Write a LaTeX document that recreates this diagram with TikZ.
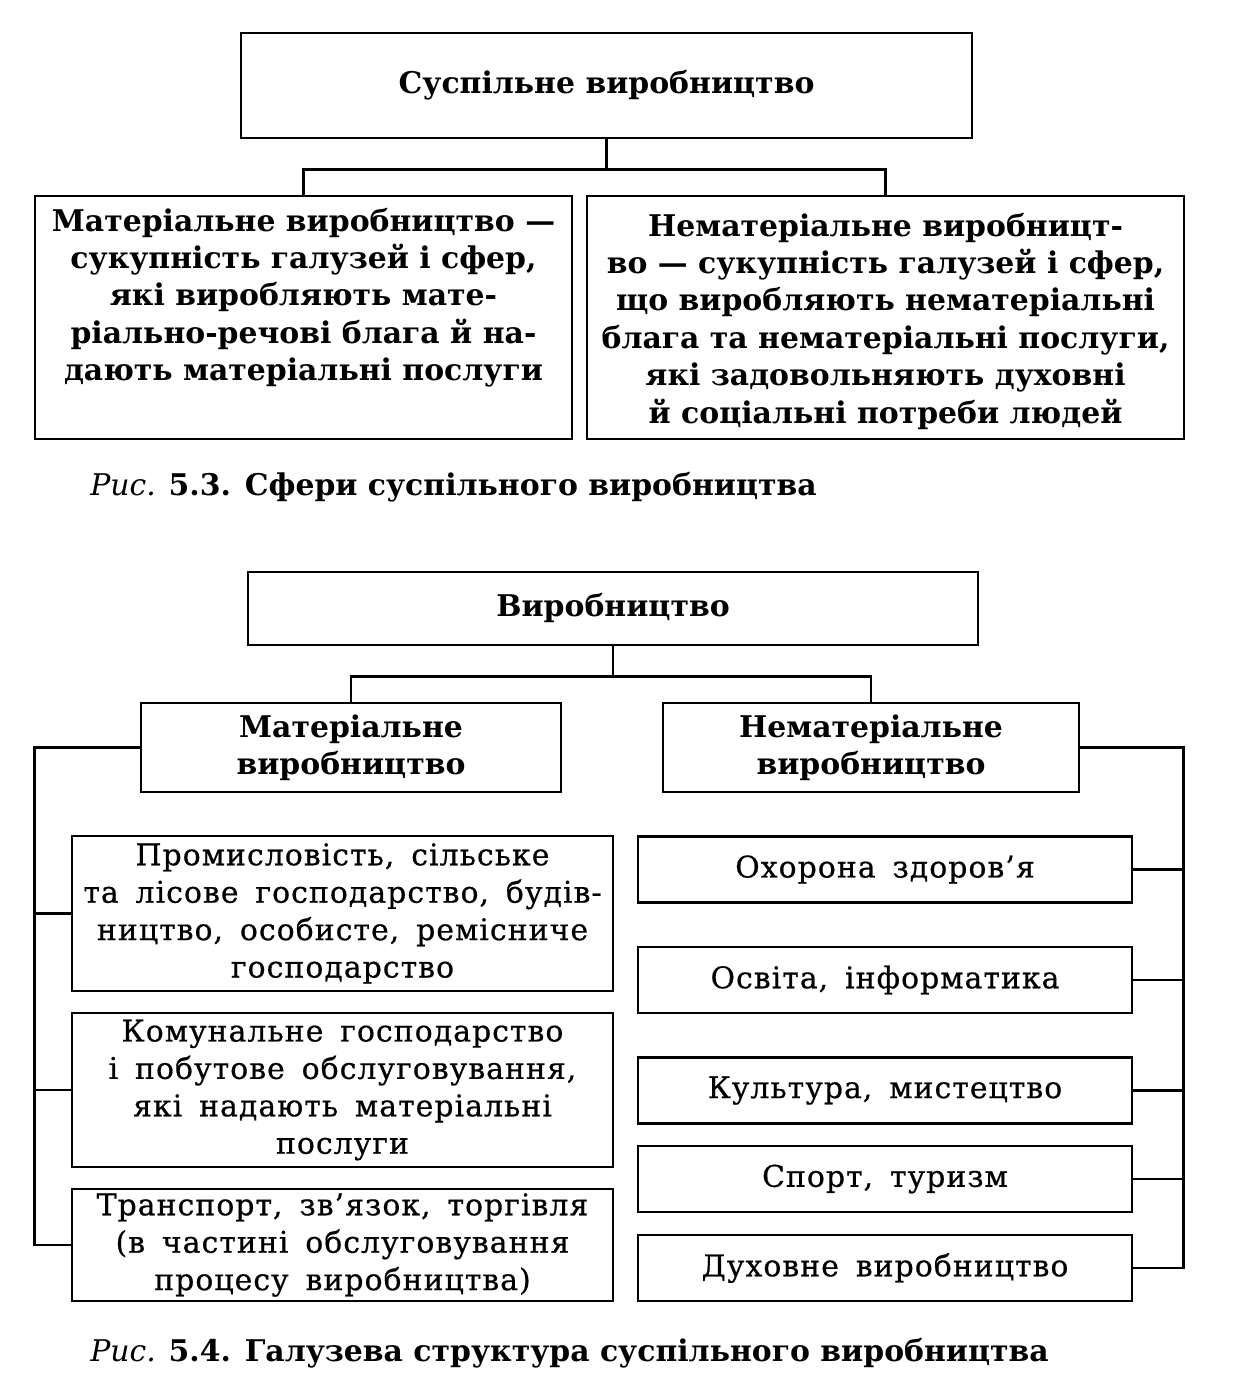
\documentclass[tikz,border=0pt]{standalone}
\usepackage{fontspec}
\setmainfont{DejaVu Serif}
\newfontfamily\boxfont[LetterSpace=3.5, WordSpace=1.6, FakeBold=0.6]{DejaVu Serif}
\usetikzlibrary{positioning}

\tikzset{
  box/.style={draw, line width=1.6pt, inner sep=0pt, align=center},
  head/.style={box, font=\fontsize{17}{21}\selectfont\bfseries},
  item/.style={box, font=\boxfont\fontsize{17}{21.3}\selectfont},
  deftext/.style={anchor=north, align=center, font=\fontsize{17}{21.3}\selectfont\bfseries},
  link/.style={line width=1.3pt},
}

\begin{document}
\begin{tikzpicture}[x=0.02cm, y=-0.02cm, font=\fontsize{16}{21.3}\selectfont]
  \useasboundingbox (0,0) rectangle (1254,1382);

  % Fig. 5.3
  \node (prod) [head, minimum width=14.62cm, minimum height=2.1cm] at (606.5,85.5) {Суспільне виробництво};
  \node (matdef) [box, minimum width=10.74cm, minimum height=4.86cm] at (303.5,317.5) {};
  \node (immdef) [box, minimum width=11.94cm, minimum height=4.86cm] at (885.5,317.5) {};
  \node (matdeftext) [deftext, below=0.14cm of matdef.north]
  {Матеріальне виробництво —\\сукупність галузей і сфер,\\які виробляють мате-\\ріально-речові блага й на-\\дають матеріальні послуги};
  \node (immdeftext) [deftext, below=0.24cm of immdef.north]
  {Нематеріальне виробницт-\\во — сукупність галузей і сфер,\\що виробляють нематеріальні\\блага та нематеріальні послуги,\\які задовольняють духовні\\й соціальні потреби людей};
  \node (cap53) [anchor=west, inner sep=0pt, font=\fontsize{17}{21}\selectfont] at (90,487) {\textit{Рис.} \textbf{5.3. Сфери суспільного виробництва}};

  \draw[link] (prod.south) -- ++(0,30) coordinate (fork53);
  \draw[link] (fork53) -| (matdef.north);
  \draw[link] (fork53) -| (immdef.north);

  % Fig. 5.4
  \node (base) [head, minimum width=14.6cm, minimum height=1.46cm] at (613,608.5) {Виробництво};
  \node (mathead) [head, minimum width=8.4cm, minimum height=1.78cm] at (351,747.5) {Матеріальне\\виробництво};
  \node (immhead) [head, minimum width=8.32cm, minimum height=1.78cm] at (871,747.5) {Нематеріальне\\виробництво};

  \node (ind) [item, minimum width=10.82cm, minimum height=3.1cm] at (342.5,913.5)
  {Промисловість, сільське\\та лісове господарство, будів-\\ництво, особисте, ремісниче\\господарство};
  \node (com) [item, minimum width=10.82cm, minimum height=3.08cm] at (342.5,1090)
  {Комунальне господарство\\і побутове обслуговування,\\які надають матеріальні\\послуги};
  \node (trn) [item, minimum width=10.82cm, minimum height=2.24cm] at (342.5,1245)
  {Транспорт, зв’язок, торгівля\\(в частині обслуговування\\процесу виробництва)};

  \node (health) [item, minimum width=9.88cm, minimum height=1.32cm] at (885,869.5) {Охорона здоров’я};
  \node (edu) [item, minimum width=9.88cm, minimum height=1.32cm] at (885,980) {Освіта, інформатика};
  \node (cult) [item, minimum width=9.88cm, minimum height=1.32cm] at (885,1090.5) {Культура, мистецтво};
  \node (sport) [item, minimum width=9.88cm, minimum height=1.32cm] at (885,1179) {Спорт, туризм};
  \node (spirit) [item, minimum width=9.88cm, minimum height=1.32cm] at (885,1268) {Духовне виробництво};

  \node (cap54) [anchor=west, inner sep=0pt, font=\fontsize{17}{21}\selectfont] at (90,1353) {\textit{Рис.} \textbf{5.4. Галузева структура суспільного виробництва}};

  \draw[link] (base.south) -- ++(0,30) coordinate (fork54);
  \draw[link] (fork54) -| (mathead.north);
  \draw[link] (fork54) -| (immhead.north);

  \draw[link] (mathead.west) -- ++(-105,0) coordinate (lbus) |- (trn.west);
  \draw[link] (ind.west) -- (ind.west -| lbus);
  \draw[link] (com.west) -- (com.west -| lbus);

  \draw[link] (immhead.east) -- ++(103,0) coordinate (rbus) |- (spirit.east);
  \draw[link] (health.east) -- (health.east -| rbus);
  \draw[link] (edu.east) -- (edu.east -| rbus);
  \draw[link] (cult.east) -- (cult.east -| rbus);
  \draw[link] (sport.east) -- (sport.east -| rbus);
\end{tikzpicture}
\end{document}
